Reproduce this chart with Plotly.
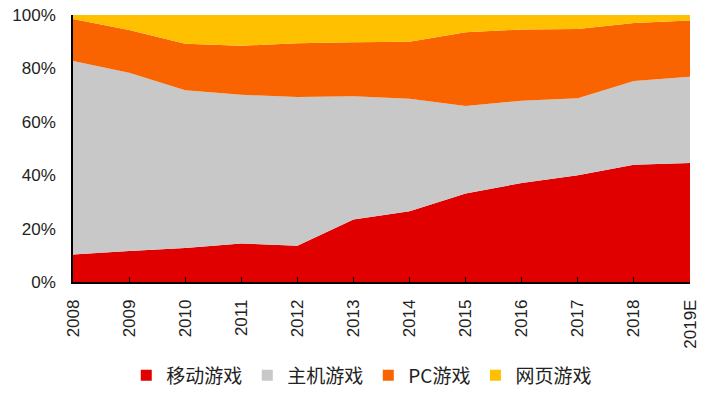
import plotly.graph_objects as go

years = ["2008", "2009", "2010", "2011", "2012", "2013", "2014", "2015", "2016", "2017", "2018", "2019E"]
mobile = [10.3, 11.6, 12.7, 14.4, 13.6, 23.4, 26.5, 33.1, 37.1, 40.0, 43.9, 44.6]
console = [72.5, 66.8, 59.1, 55.7, 55.7, 46.2, 42.1, 32.8, 30.8, 28.8, 31.4, 32.3]
pc = [15.7, 16.0, 17.4, 18.4, 20.1, 20.2, 21.4, 27.6, 26.7, 26.0, 21.7, 21.0]
web = [1.5, 5.6, 10.8, 11.5, 10.6, 10.2, 10.0, 6.5, 5.4, 5.2, 3.0, 2.1]

names = ["移动游戏", "主机游戏", "PC游戏", "网页游戏"]
colors = ["#E00000", "#C8C8C8", "#F96400", "#FFC000"]
series = [mobile, console, pc, web]

fig = go.Figure()
for name, col, vals in zip(names, colors, series):
    fig.add_trace(go.Scatter(
        x=years, y=vals, name=name, stackgroup="one", mode="none",
        fillcolor=col, line=dict(width=0), showlegend=False, hoverinfo="x+y+name"))
for name, col in zip(names, colors):
    fig.add_trace(go.Scatter(
        x=[None], y=[None], name=name, mode="markers",
        marker=dict(symbol="square", size=11, color=col), showlegend=True))

font = "Liberation Sans, Arial, Noto Sans CJK SC, sans-serif"
fig.update_layout(
    width=707, height=396,
    margin=dict(l=73, r=17, t=15, b=114, autoexpand=False),
    paper_bgcolor="white", plot_bgcolor="white",
    font=dict(family=font, size=17, color="#222222"),
    showlegend=True,
    legend=dict(orientation="h", x=0.468, xanchor="center", y=-0.35, yanchor="middle",
                traceorder="normal",
                font=dict(family="Noto Sans CJK SC, sans-serif", size=19, color="#222222"),
                itemwidth=30, tracegroupgap=0),
    xaxis=dict(type="category", range=[0, 11], showgrid=False, zeroline=False, automargin=False,
               showline=True, linecolor="black", linewidth=1.5,
               ticks="inside", ticklen=5, tickcolor="black", tickangle=-90,
               ticklabelstandoff=9, tickfont=dict(size=17)),
    yaxis=dict(range=[0, 100], tickvals=[0, 20, 40, 60, 80, 100], automargin=False,
               ticktext=["0%", "20%", "40%", "60%", "80%", "100%"],
               showgrid=False, zeroline=False, showline=True, linecolor="black", linewidth=1.5,
               ticks="", ticklabelstandoff=12, tickfont=dict(size=17)),
)
fig.write_html("out.html", config={"displayModeBar": False},
               post_script="document.body.style.margin='0';")
